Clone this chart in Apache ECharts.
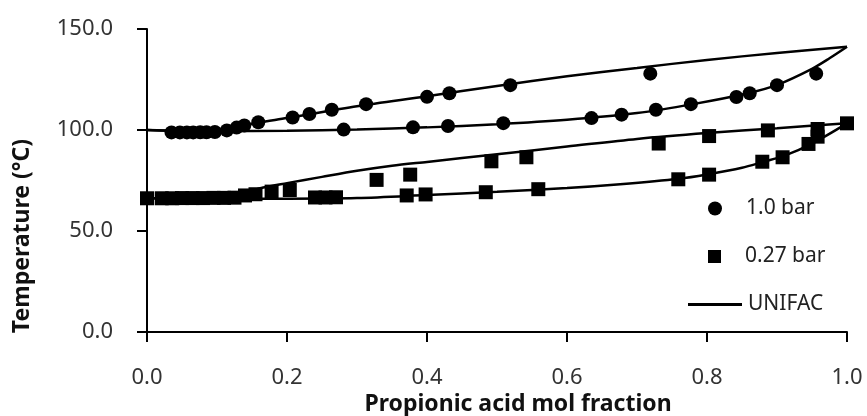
<!DOCTYPE html>
<html>
<head>
<meta charset="utf-8">
<script src="https://cdn.jsdelivr.net/npm/echarts@6/dist/echarts.min.js"></script>
<style>
  html, body { margin: 0; padding: 0; background: #fff; }
  #chart { width: 867px; height: 416px; }
</style>
</head>
<body>
<div id="chart"></div>
<script>
// axis ticks
var xTicks = [0, 0.2, 0.4, 0.6, 0.8, 1.0];
var yTicks = [0, 50, 100, 150];

// measured points, 1.0 bar  [mol fraction, T]
var liquid10 = [[0.035, 98.8], [0.047, 98.8], [0.057, 98.8], [0.066, 98.8], [0.076, 98.9], [0.085, 98.9],
    [0.097, 99.0], [0.114, 99.8], [0.281, 100.2], [0.380, 101.3], [0.430, 102.0], [0.509, 103.4],
    [0.635, 105.9], [0.678, 107.6], [0.727, 110.0], [0.777, 112.8], [0.842, 116.3], [0.861, 118.2],
    [0.900, 122.2], [0.956, 127.9]];
var vapor10 = [[0.128, 101.2], [0.139, 102.2], [0.159, 103.8], [0.208, 106.2], [0.232, 107.9], [0.264, 110.0],
    [0.313, 112.8], [0.400, 116.4], [0.432, 118.2], [0.519, 122.2], [0.719, 127.9]];

// measured points, 0.27 bar
var liquid027 = [[0.0, 66.2], [0.021, 66.2], [0.036, 66.2], [0.05, 66.3], [0.065, 66.3], [0.08, 66.3],
    [0.095, 66.4], [0.11, 66.4], [0.125, 66.5], [0.24, 66.6], [0.255, 66.6], [0.27, 66.7],
    [0.371, 67.6], [0.398, 68.1], [0.484, 69.2], [0.559, 70.7], [0.759, 75.6], [0.803, 77.9],
    [0.879, 84.3], [0.908, 86.5], [0.945, 93.1], [0.958, 96.7], [1.0, 103.3]];
var vapor027 = [[0.14, 67.6], [0.155, 68.2], [0.178, 69.5], [0.204, 70.3], [0.328, 75.3], [0.376, 77.9],
    [0.492, 84.5], [0.542, 86.5], [0.731, 93.3], [0.803, 97.0], [0.887, 99.8], [0.958, 100.5]];

// UNIFAC curves
var unifacLiq10 = [[0, 100], [0.05, 99.6], [0.1, 99.5], [0.2, 99.6], [0.3, 100.2], [0.4, 101.3], [0.5, 102.9],
    [0.6, 105.1], [0.7, 108.4], [0.78, 112.8], [0.86, 118.3], [0.9, 122.3], [0.95, 130.3], [0.975, 135.5], [1.0, 141.2]];
var unifacVap10 = [[0, 100], [0.05, 99.5], [0.1, 99.9], [0.133, 101.8], [0.16, 103.7], [0.2, 105.9], [0.3, 111.8],
    [0.4, 116.7], [0.5, 121.8], [0.6, 126.6], [0.7, 130.7], [0.8, 134.7], [0.9, 138.1], [1.0, 141.2]];
var unifacLiq027 = [[0, 66.2], [0.1, 66.0], [0.2, 66.0], [0.3, 66.3], [0.4, 67.8], [0.5, 69.4], [0.6, 71.3],
    [0.676, 73.2], [0.76, 75.9], [0.8, 78.0], [0.85, 81.3], [0.88, 84.2], [0.91, 87.2], [0.95, 93.3], [1.0, 103.3]];
var unifacVap027 = [[0, 66.2], [0.05, 66.3], [0.1, 66.8], [0.133, 68.4], [0.166, 71.5], [0.2, 73.7], [0.25, 76.8],
    [0.3, 79.8], [0.35, 82.3], [0.4, 84.2], [0.5, 88.0], [0.6, 91.8], [0.7, 95.6], [0.8, 98.5], [0.9, 100.9], [1.0, 103.4]];

var font = 'Noto Sans';
var myChart = echarts.init(document.getElementById('chart'));

function curve(data) {
    return {
        name: 'UNIFAC', type: 'line', data: data, smooth: 0.3, showSymbol: false, symbol: 'none',
        lineStyle: { color: '#000', width: 2.5 }, itemStyle: { color: '#000' }, z: 2, silent: true
    };
}
function points(name, symbol, size, data) {
    return {
        name: name, type: 'scatter', data: data, symbol: symbol, symbolSize: size,
        itemStyle: { color: '#000', opacity: 1 }, z: 5, clip: false
    };
}
function legendBox(name, icon, left, top, w, h, pad) {
    return {
        data: [name], icon: icon, left: left, top: top, itemWidth: w, itemHeight: h, padding: 0,
        selectedMode: false, itemStyle: { opacity: 1 },
        textStyle: { fontFamily: font, fontSize: 21, color: '#222', padding: [0, 0, 0, pad] }
    };
}

var option = {
    animation: false,
    backgroundColor: '#fff',
    grid: { left: 147, right: 20, top: 29, bottom: 84 },
    xAxis: {
        type: 'value', min: xTicks[0], max: xTicks[xTicks.length - 1], interval: 0.2,
        axisLine: { lineStyle: { color: '#000', width: 2 } },
        axisTick: { show: true, inside: false, length: 10, lineStyle: { color: '#000', width: 2 } },
        axisLabel: { margin: 35, fontFamily: font, fontSize: 22, color: '#333',
            formatter: function (v) { return v.toFixed(1); } },
        splitLine: { show: false }
    },
    yAxis: {
        type: 'value', min: yTicks[0], max: yTicks[yTicks.length - 1], interval: 50,
        axisLine: { show: true, lineStyle: { color: '#000', width: 2 } },
        axisTick: { show: true, inside: false, length: 10, lineStyle: { color: '#000', width: 2 } },
        axisLabel: { margin: 34, fontFamily: font, fontSize: 22, color: '#333',
            formatter: function (v) { return v.toFixed(1); } },
        splitLine: { show: false }
    },
    legend: [
        legendBox('1.0 bar', 'circle', 708, 198, 14, 14, 19),
        legendBox('0.27 bar', 'rect', 708, 246, 13, 13, 19),
        legendBox('UNIFAC', 'rect', 688, 294, 54, 3, 1)
    ],
    graphic: [
        { type: 'text', x: 22, y: 236, rotation: Math.PI / 2,
          style: { text: 'Temperature (°C)', fontFamily: font, fontSize: 23, fontWeight: 'bold',
                   fill: '#111', align: 'center', verticalAlign: 'middle' } },
        { type: 'text', x: 518, y: 404,
          style: { text: 'Propionic acid mol fraction', fontFamily: font, fontSize: 23, fontWeight: 'bold',
                   fill: '#111', align: 'center', verticalAlign: 'middle' } }
    ],
    series: [
        curve(unifacLiq10), curve(unifacVap10), curve(unifacLiq027), curve(unifacVap027),
        points('1.0 bar', 'circle', 14, liquid10.concat(vapor10)),
        points('0.27 bar', 'rect', 14, liquid027.concat(vapor027))
    ]
};
myChart.setOption(option);
</script>
</body>
</html>
